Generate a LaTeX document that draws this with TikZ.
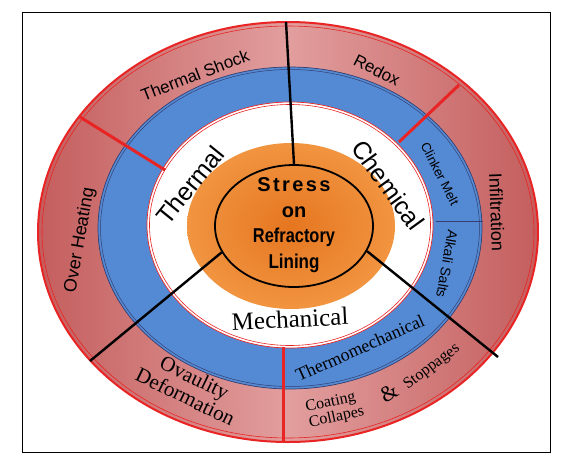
\documentclass[tikz,border=0pt]{standalone}
\usepackage{fontspec}
\setmainfont{Liberation Serif}
\newfontfamily\arialfont{Liberation Sans}
\usetikzlibrary{shapes.geometric}
\definecolor{ringred}{RGB}{232,36,36}
\definecolor{pinkdark}{RGB}{196,94,94}
\definecolor{pinklight}{RGB}{226,158,158}
\definecolor{ringblue}{RGB}{84,138,212}
\definecolor{ringnavy}{RGB}{52,62,112}
\definecolor{orangedark}{RGB}{230,118,32}
\definecolor{orangelight}{RGB}{241,148,64}

\begin{document}
\begin{tikzpicture}[x=1pt,y=-1pt,
	sanslabel/.style={font=\arialfont\fontsize{#1}{#1}\selectfont,inner sep=0pt},
	seriflabel/.style={font=\fontsize{#1}{#1}\selectfont,inner sep=0pt},
	reddiv/.style={draw=ringred,line width=3pt},
	blackdiv/.style={draw=black,line width=2.4pt}]
	\useasboundingbox (0,0) rectangle (562,474);
	\draw[line width=1pt] (22,12) rectangle (550,452);
	\shade[left color=pinkdark,right color=pinkdark,middle color=pinklight] (288,232) ellipse [x radius=250,y radius=210];
	\draw[ringred,line width=2pt] (288,232) ellipse [x radius=250,y radius=210];
	\draw[ringred,line width=0.6pt] (288,232) ellipse [x radius=246,y radius=206];
	\fill[ringblue] (290,228) ellipse [x radius=192,y radius=161];
	\draw[ringnavy,line width=0.7pt] (290,228) ellipse [x radius=192,y radius=161];
	\draw[ringnavy,line width=0.5pt] (290,228) ellipse [x radius=189.5,y radius=158.5];
	\fill[white] (290,225) ellipse [x radius=143,y radius=123];
	\draw[ringred,line width=0.7pt] (290,225) ellipse [x radius=143,y radius=123];
	\draw[ringred,line width=0.6pt] (290,225) ellipse [x radius=140.5,y radius=120.5];
	\shade[inner color=orangedark,outer color=orangelight] (291,226) ellipse [x radius=104,y radius=83];
	\draw (294,226) node (core) [draw,ellipse,line width=1.8pt,minimum width=158,minimum height=122,inner sep=0pt] {};
	\draw (294,225) node (coretext) [font=\arialfont\bfseries\fontsize{20}{25.5}\selectfont,align=center] {{\addfontfeature{LetterSpace=12}Stress}\\on\\\scalebox{0.82}[1]{Refractory}\\\scalebox{0.85}[1]{Lining}};

	\coordinate (topend) at (286,22);
	\coordinate (llend) at (90,361);
	\coordinate (lrend) at (498,357);
	\draw[blackdiv] (core.north) -- (topend);
	\draw[blackdiv] (core.200) -- (llend);
	\draw[blackdiv] (core.341) -- (lrend);

	\coordinate (ulin) at (165,170);
	\coordinate (ulout) at (80,117);
	\coordinate (urin) at (399,142);
	\coordinate (urout) at (459,85);
	\coordinate (botin) at (283,347);
	\coordinate (botout) at (283,441);
	\draw[reddiv] (ulin) -- (ulout);
	\draw[reddiv] (urin) -- (urout);
	\draw[reddiv] (botin) -- (botout);

	\coordinate (saltin) at (436,221);
	\coordinate (saltout) at (483,221);
	\draw[ringnavy,line width=0.8pt] (saltin) -- (saltout);

	\node (thermshock) [sanslabel=17,rotate=21] at (195,75) {Thermal Shock};
	\node (redox) [sanslabel=17,rotate=-27] at (377,70) {Redox};
	\node (infil) [sanslabel=18,rotate=-88] at (497,212) {Infiltration};
	\node (overheat) [sanslabel=18,rotate=80] at (80,240) {Over Heating};
	\node (thermal) [sanslabel=25,rotate=51] at (190,185) {Thermal};
	\node (chemical) [sanslabel=25,rotate=-54] at (388,185) {Chemical};
	\node (clinker) [sanslabel=13,rotate=-63] at (440,174) {Clinker Melt};
	\node (alkali) [sanslabel=14,rotate=-100] at (447,264) {Alkali Salts};
	\node (mech) [seriflabel=25,rotate=3] at (290,319) {Mechanical};
	\node (thermomech) [seriflabel=18,rotate=24] at (360,348) {Thermomechanical};
	\node (ovaulity) [seriflabel=21,rotate=-26,align=center] at (190,387) {Ovaulity\\Deformation};
	\node (coating) [seriflabel=16,rotate=12,align=left] at (335,410) {Coating\\Collapes};
	\node (amp) [seriflabel=22,rotate=30] at (389,393) {\&};
	\node (stoppages) [seriflabel=16,rotate=37] at (432,367) {Stoppages};
\end{tikzpicture}
\end{document}
